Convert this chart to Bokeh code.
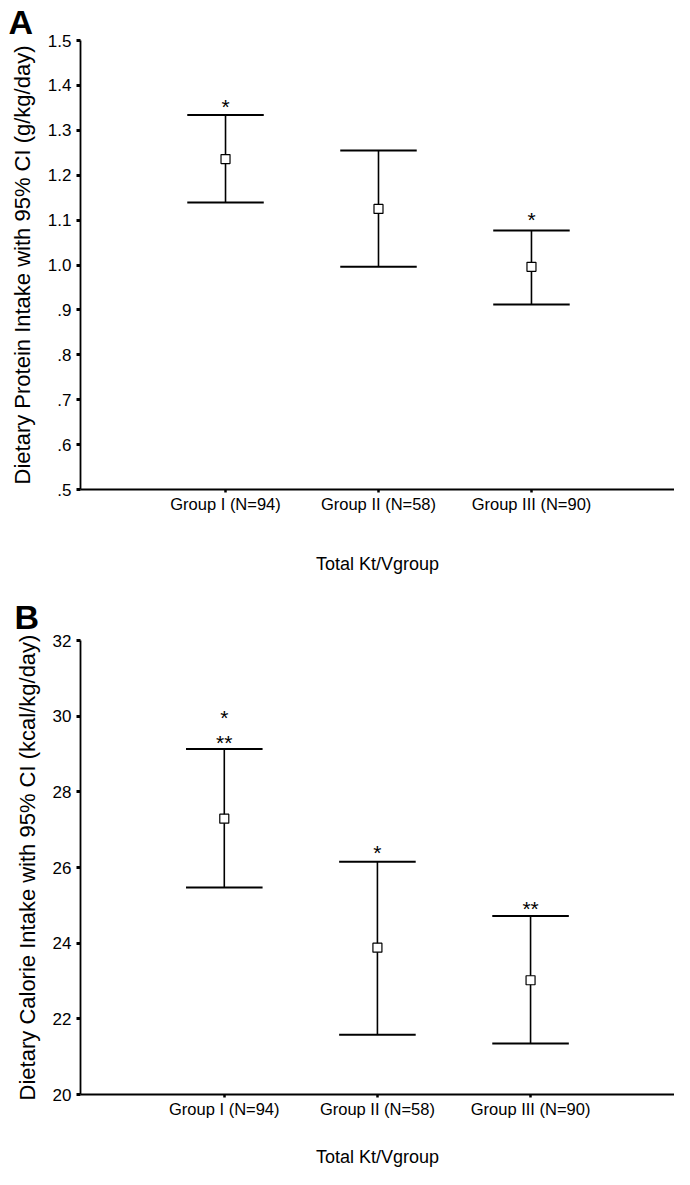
from bokeh.plotting import figure
from bokeh.layouts import column
from bokeh.models import FixedTicker, Range1d
from bokeh.core.properties import value
from bokeh.embed import file_html
from bokeh.resources import INLINE

# ---------------- data ----------------
groups = ["Group I (N=94)", "Group II (N=58)", "Group III (N=90)"]
group_pos = [1, 2, 3]

protein_mean = [1.236, 1.125, 0.996]
protein_lo = [1.139, 0.996, 0.912]
protein_hi = [1.334, 1.255, 1.077]
protein_ticks = [0.5, 0.6, 0.7, 0.8, 0.9, 1.0, 1.1, 1.2, 1.3, 1.4, 1.5]
protein_tick_labels = [".5", ".6", ".7", ".8", ".9", "1.0", "1.1", "1.2", "1.3", "1.4", "1.5"]
protein_sig_x = [1, 3]
protein_sig_y = [1.377, 1.126]
protein_sig_text = ["*", "*"]

calorie_mean = [27.29, 23.88, 23.02]
calorie_lo = [25.47, 21.58, 21.35]
calorie_hi = [29.13, 26.15, 24.72]
calorie_ticks = [20, 22, 24, 26, 28, 30, 32]
calorie_tick_labels = ["20", "22", "24", "26", "28", "30", "32"]
calorie_sig_x = [1, 1, 2, 3]
calorie_sig_y = [30.26, 29.6, 26.7, 25.2]
calorie_sig_text = ["*", "**", "*", "**"]

FONT = "Liberation Sans"
CAP = 0.25


def make_panel(letter, ylabel, mean, lo, hi, ticks, tick_labels, sig_x, sig_y, sig_text,
               x_range, y_range, height, border_left, border_top, border_bottom,
               title_standoff, letter_offset, letter_standoff):
    p = figure(width=674, height=height, output_backend="svg", toolbar_location=None,
               x_range=Range1d(*x_range), y_range=Range1d(*y_range),
               min_border_left=border_left, min_border_right=0,
               min_border_top=border_top, min_border_bottom=border_bottom,
               title=letter)
    p.outline_line_color = None
    p.xgrid.visible = False
    p.ygrid.visible = False
    p.background_fill_color = "white"

    p.title.text_font = FONT
    p.title.text_font_size = "34px"
    p.title.text_font_style = "bold"
    p.title.text_color = "black"
    p.title.align = "left"
    p.title.offset = letter_offset
    p.title.standoff = letter_standoff

    # error bars
    p.segment(x0=group_pos, y0=lo, x1=group_pos, y1=hi, line_color="black", line_width=1.6)
    p.segment(x0=[g - CAP for g in group_pos], y0=hi, x1=[g + CAP for g in group_pos], y1=hi,
              line_color="black", line_width=2)
    p.segment(x0=[g - CAP for g in group_pos], y0=lo, x1=[g + CAP for g in group_pos], y1=lo,
              line_color="black", line_width=2)
    p.scatter(x=group_pos, y=mean, marker="square", size=9, fill_color="white",
              line_color="black", line_width=1.2)

    # significance marks
    p.text(x=sig_x, y=sig_y, text=sig_text, text_font=value(FONT), text_font_size="21px",
           text_align="center", text_baseline="alphabetic", y_offset=11, text_color="black")

    # axes
    xa = p.xaxis[0]
    xa.ticker = FixedTicker(ticks=group_pos)
    xa.major_label_overrides = {g: lab for g, lab in zip(group_pos, groups)}
    xa.minor_tick_line_color = None
    xa.major_tick_out = 3
    xa.major_tick_in = 0
    xa.major_tick_line_width = 2.5
    xa.axis_line_width = 1.8
    xa.major_label_text_font = FONT
    xa.major_label_text_font_size = "16.5px"
    xa.major_label_text_color = "black"
    xa.major_label_standoff = 2
    xa.axis_label = "Total Kt/Vgroup"
    xa.axis_label_text_font = FONT
    xa.axis_label_text_font_size = "18px"
    xa.axis_label_text_font_style = "normal"
    xa.axis_label_text_color = "black"
    xa.axis_label_standoff = title_standoff

    ya = p.yaxis[0]
    ya.ticker = FixedTicker(ticks=ticks)
    ya.major_label_overrides = {t: lab for t, lab in zip(ticks, tick_labels)}
    ya.minor_tick_line_color = None
    ya.major_tick_out = 4
    ya.major_tick_in = 0
    ya.major_tick_line_width = 3
    ya.axis_line_width = 1.8
    ya.major_label_text_font = FONT
    ya.major_label_text_font_size = "17px"
    ya.major_label_text_color = "black"
    ya.major_label_standoff = 5
    ya.axis_label = ylabel
    ya.axis_label_text_font = FONT
    ya.axis_label_text_font_size = "22px"
    ya.axis_label_text_font_style = "normal"
    ya.axis_label_text_color = "black"
    ya.axis_label_standoff = 10
    return p


pA = make_panel("A", "Dietary Protein Intake with 95% CI (g/kg/day)",
                protein_mean, protein_lo, protein_hi, protein_ticks, protein_tick_labels,
                protein_sig_x, protein_sig_y, protein_sig_text,
                x_range=(0.052, 3.935), y_range=(0.5, 1.5), height=582,
                border_left=80, border_top=32, border_bottom=93, title_standoff=38,
                letter_offset=-72, letter_standoff=0)

pB = make_panel("B", "Dietary Calorie Intake with 95% CI (kcal/kg/day)",
                calorie_mean, calorie_lo, calorie_hi, calorie_ticks, calorie_tick_labels,
                calorie_sig_x, calorie_sig_y, calorie_sig_text,
                x_range=(0.061, 3.94), y_range=(20, 32), height=587,
                border_left=75, border_top=58, border_bottom=74, title_standoff=26,
                letter_offset=-66, letter_standoff=10)

layout = column(pA, pB, spacing=0)
open("out.html", "w").write(file_html(layout, INLINE))
